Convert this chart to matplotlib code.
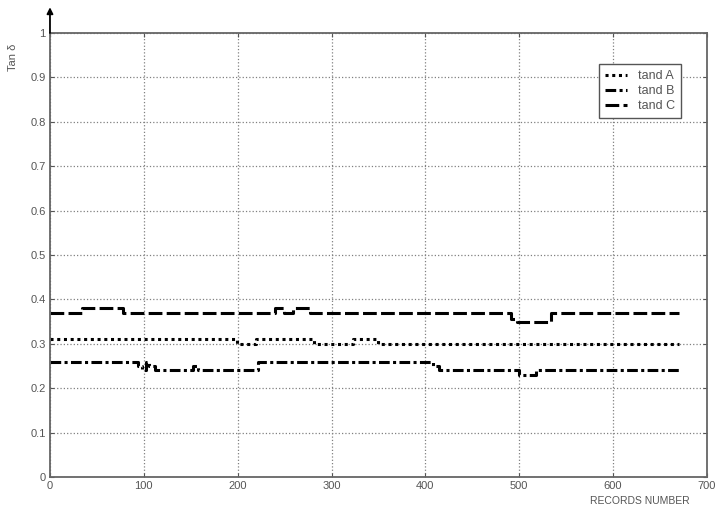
import numpy as np
import matplotlib.pyplot as plt

# step series: record number where a level starts, and the level
a_x = [0, 199, 219, 281, 323, 349, 670]
a_y = [0.31, 0.30, 0.31, 0.30, 0.31, 0.30, 0.30]

b_x = [0, 94, 98, 102, 106, 112, 152, 158, 222, 408, 414, 500, 518, 670]
b_y = [0.26, 0.25, 0.24, 0.26, 0.25, 0.24, 0.25, 0.24, 0.26, 0.25, 0.24, 0.23, 0.24, 0.24]

c_x = [0, 34, 78, 240, 249, 259, 277, 491, 498, 534, 670]
c_y = [0.37, 0.38, 0.37, 0.38, 0.37, 0.38, 0.37, 0.355, 0.35, 0.37, 0.37]

x_ticks = [0, 100, 200, 300, 400, 500, 600, 700]
y_ticks = [0, 0.1, 0.2, 0.3, 0.4, 0.5, 0.6, 0.7, 0.8, 0.9, 1]
y_labels = ['0', '0.1', '0.2', '0.3', '0.4', '0.5', '0.6', '0.7', '0.8', '0.9', '1']

plt.rcParams['font.family'] = ['Liberation Sans', 'DejaVu Sans']

fig = plt.figure(figsize=(7.16, 5.08), dpi=100)
ax = fig.add_axes([0.0698, 0.061, 0.9176, 0.874])

ax.step(a_x, a_y, where='post', color='black', lw=2.2, dashes=(1, 1.2), label='tand A')
ax.step(b_x, b_y, where='post', color='black', lw=2.2, dashes=(3.5, 1.1, 1, 1.1), label='tand B')
ax.step(c_x, c_y, where='post', color='black', lw=2.2, dashes=(4.5, 1.4), label='tand C')

ax.set_xlim(0, 700)
ax.set_ylim(0, 1)
ax.set_xticks(x_ticks)
ax.set_yticks(y_ticks)
ax.set_yticklabels(y_labels)
ax.grid(True, color='#808080', linestyle=':', linewidth=0.9)
ax.tick_params(direction='in', length=3, labelsize=8, colors='#555555', pad=3,
               top=True, right=True)

for s in ax.spines.values():
    s.set_color('#666666')
    s.set_linewidth(1.3)

# arrow on the y axis
ax.annotate('', xy=(0, 1.058), xytext=(0, 1.0), xycoords='axes fraction',
            arrowprops=dict(arrowstyle='-|>', color='black', lw=1.3,
                            mutation_scale=9, shrinkA=0, shrinkB=0),
            annotation_clip=False)

leg = ax.legend(loc='upper right', bbox_to_anchor=(0.961, 0.931), borderaxespad=0,
                fontsize=9, fancybox=False, handlelength=1.7, handletextpad=0.9,
                labelspacing=0.25, borderpad=0.5, framealpha=1)
leg.get_frame().set_edgecolor('#555555')
leg.get_frame().set_linewidth(1)
for t in leg.get_texts():
    t.set_color('#555555')

fig.text(13 / 716, 1 - 57 / 508, 'Tan δ', rotation=90, ha='center', va='center',
         fontsize=8, color='#555555')
fig.text(640 / 716, 1 - 501 / 508, 'RECORDS NUMBER', ha='center', va='center',
         fontsize=7.5, color='#555555')

fig.savefig('out.png', dpi=100)
